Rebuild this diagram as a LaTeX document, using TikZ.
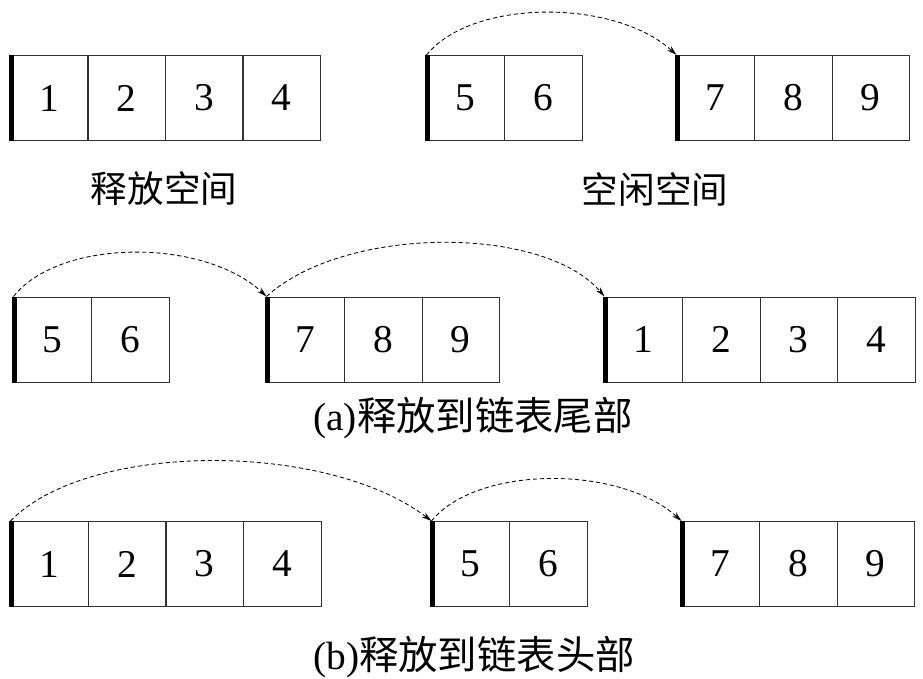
\documentclass[tikz,border=0pt]{standalone}
\usepackage{fontspec}
\setmainfont{Liberation Serif}
\newfontfamily\cjk{Noto Sans CJK SC}
\usetikzlibrary{arrows.meta}

\tikzset{
	cell/.style={draw=black!80, line width=0.7pt, minimum width=1.9375cm, minimum height=2.125cm, inner sep=0pt, font=\fontsize{28}{30}\selectfont},
	bar/.style={line width=3.5pt},
	link/.style={densely dashed, line width=0.6pt, -{Stealth[length=7pt,width=4pt]}},
	lbl/.style={font=\cjk\fontsize{26}{28}\selectfont},
	sublbl/.style={font=\fontsize{28}{30}\selectfont},
}

\begin{document}
\begin{tikzpicture}[x=0.025cm,y=-0.025cm]
	
	\useasboundingbox (0,0) rectangle (923,679);
	
	% freed block and free list
	\node[cell] (a1) at (49.25,98) {1};
	\node[cell] (a2) at (126.75,98) {2};
	\node[cell] (a3) at (204.25,98) {3};
	\node[cell] (a4) at (281.75,98) {4};
	
	\node[cell] (b5) at (465.75,98) {5};
	\node[cell] (b6) at (543.25,98) {6};
	
	\node[cell] (c7) at (715.75,98) {7};
	\node[cell] (c8) at (793.25,98) {8};
	\node[cell] (c9) at (870.75,98) {9};
	
	\node[lbl] (t1) at (164,189) {释放空间};
	
	\node[lbl] (t2) at (655,189) {空闲空间};
	
	% (a)
	\node[cell] (d5) at (52.75,339.5) {5};
	\node[cell] (d6) at (130.25,339.5) {6};
	
	\node[cell] (e7) at (305.75,339.5) {7};
	\node[cell] (e8) at (383.25,339.5) {8};
	\node[cell] (e9) at (460.75,339.5) {9};
	
	\node[cell] (f1) at (643.75,339.5) {1};
	\node[cell] (f2) at (721.25,339.5) {2};
	\node[cell] (f3) at (798.75,339.5) {3};
	\node[cell] (f4) at (876.25,339.5) {4};
	
	\node[sublbl] (ta) at (473,418) {(a)\cjk 释放到链表尾部};
	
	% (b)
	\node[cell] (g1) at (49.75,564) {1};
	\node[cell] (g2) at (127.25,564) {2};
	\node[cell] (g3) at (204.75,564) {3};
	\node[cell] (g4) at (282.25,564) {4};
	
	\node[cell] (h5) at (470.75,564) {5};
	\node[cell] (h6) at (548.25,564) {6};
	
	\node[cell] (k7) at (720.75,564) {7};
	\node[cell] (k8) at (798.25,564) {8};
	\node[cell] (k9) at (875.75,564) {9};
	
	\node[sublbl] (tb) at (474,657) {(b)\cjk 释放到链表头部};
	
	\draw[bar] ([xshift=1pt]a1.north west) -- ([xshift=1pt]a1.south west);
	\draw[bar] ([xshift=1pt]b5.north west) -- ([xshift=1pt]b5.south west);
	\draw[bar] ([xshift=1pt]c7.north west) -- ([xshift=1pt]c7.south west);
	\draw[bar] ([xshift=1pt]d5.north west) -- ([xshift=1pt]d5.south west);
	\draw[bar] ([xshift=1pt]e7.north west) -- ([xshift=1pt]e7.south west);
	\draw[bar] ([xshift=1pt]f1.north west) -- ([xshift=1pt]f1.south west);
	\draw[bar] ([xshift=1pt]g1.north west) -- ([xshift=1pt]g1.south west);
	\draw[bar] ([xshift=1pt]h5.north west) -- ([xshift=1pt]h5.south west);
	\draw[bar] ([xshift=1pt]k7.north west) -- ([xshift=1pt]k7.south west);
	
	\draw[link] (b5.north west) .. controls (472,-1.5) and (615,-1.5) .. (c7.north west);
	\draw[link] (d5.north west) .. controls (60,238) and (204,238) .. (e7.north west);
	\draw[link] (e7.north west) .. controls (345,225) and (544,225) .. (f1.north west);
	\draw[link] (g1.north west) .. controls (88,441) and (327,441) .. (h5.north west);
	\draw[link] (h5.north west) .. controls (477,465) and (620,465) .. (k7.north west);
	
\end{tikzpicture}
\end{document}
